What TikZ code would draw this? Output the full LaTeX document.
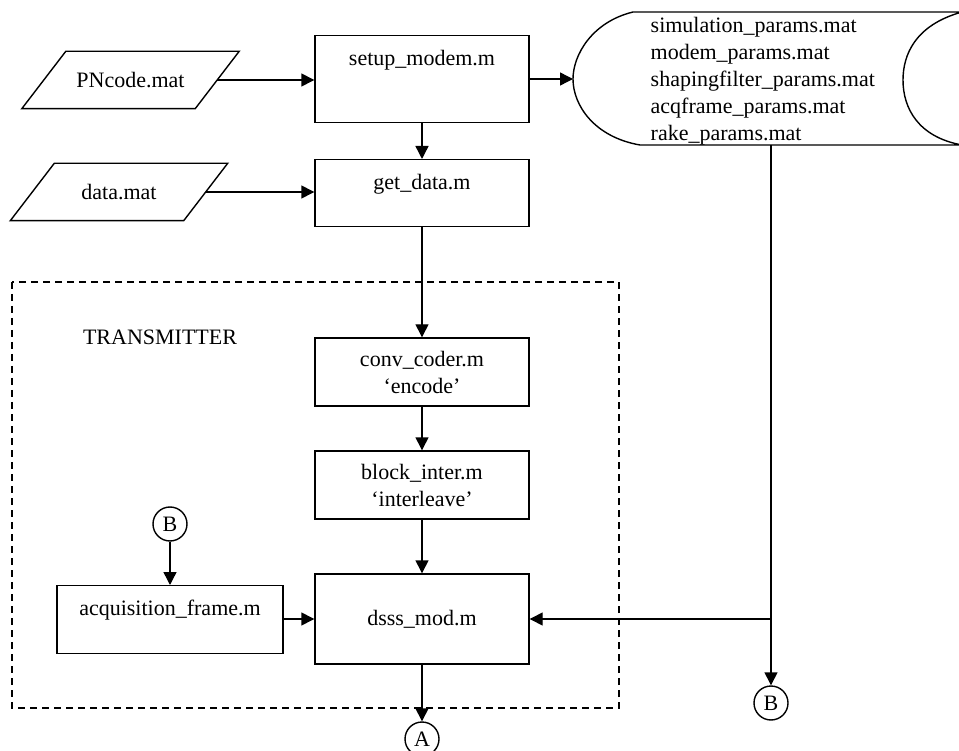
\documentclass[tikz,border=0pt]{standalone}
\usepackage{fontspec}
\setmainfont{Liberation Serif}
\usetikzlibrary{arrows.meta}
\begin{document}
\begin{tikzpicture}[x=1pt, y=-1pt, line width=1.4pt,
  every node/.style={font=\fontsize{22}{27}\selectfont},
  arr/.style={-{Triangle[length=13pt,width=13pt]}},
  proc/.style={draw, rectangle, minimum width=214pt, inner sep=0pt, align=center},
  toptext/.style={text height=30pt, text depth=#1},
  iofile/.style={rectangle, minimum width=172pt, minimum height=56pt, inner sep=0pt},
  conn/.style={draw, circle, minimum size=34pt, inner sep=0pt}]
  \clip (0,0) rectangle (959,751);
  % Input files
  \node[iofile] (pncode) at (130.5,80) {PNcode.mat};
  \node[iofile] (datamat) at (119,192) {data.mat};
  \foreach \f in {pncode,datamat}{
    \draw ([xshift=22pt]\f.north west) -- ([xshift=22pt]\f.north east)
      -- ([xshift=-22pt]\f.south east) -- ([xshift=-22pt]\f.south west) -- cycle;
  }
  % Setup and data blocks
  \node[proc, toptext=57pt] (setup) at (422,35) [anchor=north] {setup\_modem.m};
  \node[proc, toptext=37pt] (getdata) at (422,159) [anchor=north] {get\_data.m};
  % Stored parameter files
  \draw (633,12) .. controls (592,22) and (573,55) .. (573,79)
    .. controls (573,105) and (594,137) .. (640,145) -- (962,145)
    .. controls (918,137) and (903,108) .. (903,80)
    .. controls (903,55) and (915,25) .. (962,12) -- cycle;
  \coordinate (store) at (573,79);
  \coordinate (storebot) at (771,145);
  \node[anchor=west, align=left, inner sep=0pt] (files) at (650,81)
    {simulation\_params.mat\\modem\_params.mat\\shapingfilter\_params.mat\\acqframe\_params.mat\\rake\_params.mat};
  % Transmitter
  \draw[dash pattern=on 7pt off 5pt] (12,282) rectangle (619,708);
  \node (tx) at (160,337) {TRANSMITTER};
  \node[proc, minimum height=68pt] (conv) at (422,372) {conv\_coder.m\\`encode'};
  \node[proc, minimum height=68pt] (inter) at (422,485) {block\_inter.m\\`interleave'};
  \node[proc, minimum height=90pt] (dsss) at (422,619) {dsss\_mod.m};
  \node[proc, minimum width=226pt, toptext=38pt] (acq) at (170,585) [anchor=north] {acquisition\_frame.m};
  % Connectors
  \node[conn] (bin) at (170,524) {B};
  \node[conn] (bout) at (771,703) {B};
  \node[conn] (aout) at (422,739) {A};
  \coordinate (split) at (771,619);
  \draw[arr] (pncode.east) -- (setup.west |- pncode.east);
  \draw[arr] (datamat.east) -- (getdata.west |- datamat.east);
  \draw[arr] (setup.east |- store) -- (store);
  \draw[arr] (setup) -- (getdata);
  \draw[arr] (getdata) -- (conv);
  \draw[arr] (conv) -- (inter);
  \draw[arr] (inter) -- (dsss);
  \draw[arr] (bin) -- (acq);
  \draw[arr] (acq.east |- dsss) -- (dsss);
  \draw[arr] (dsss) -- (aout);
  \draw[arr] (storebot) -- (bout);
  \draw[arr] (split) -- (dsss);
\end{tikzpicture}
\end{document}
